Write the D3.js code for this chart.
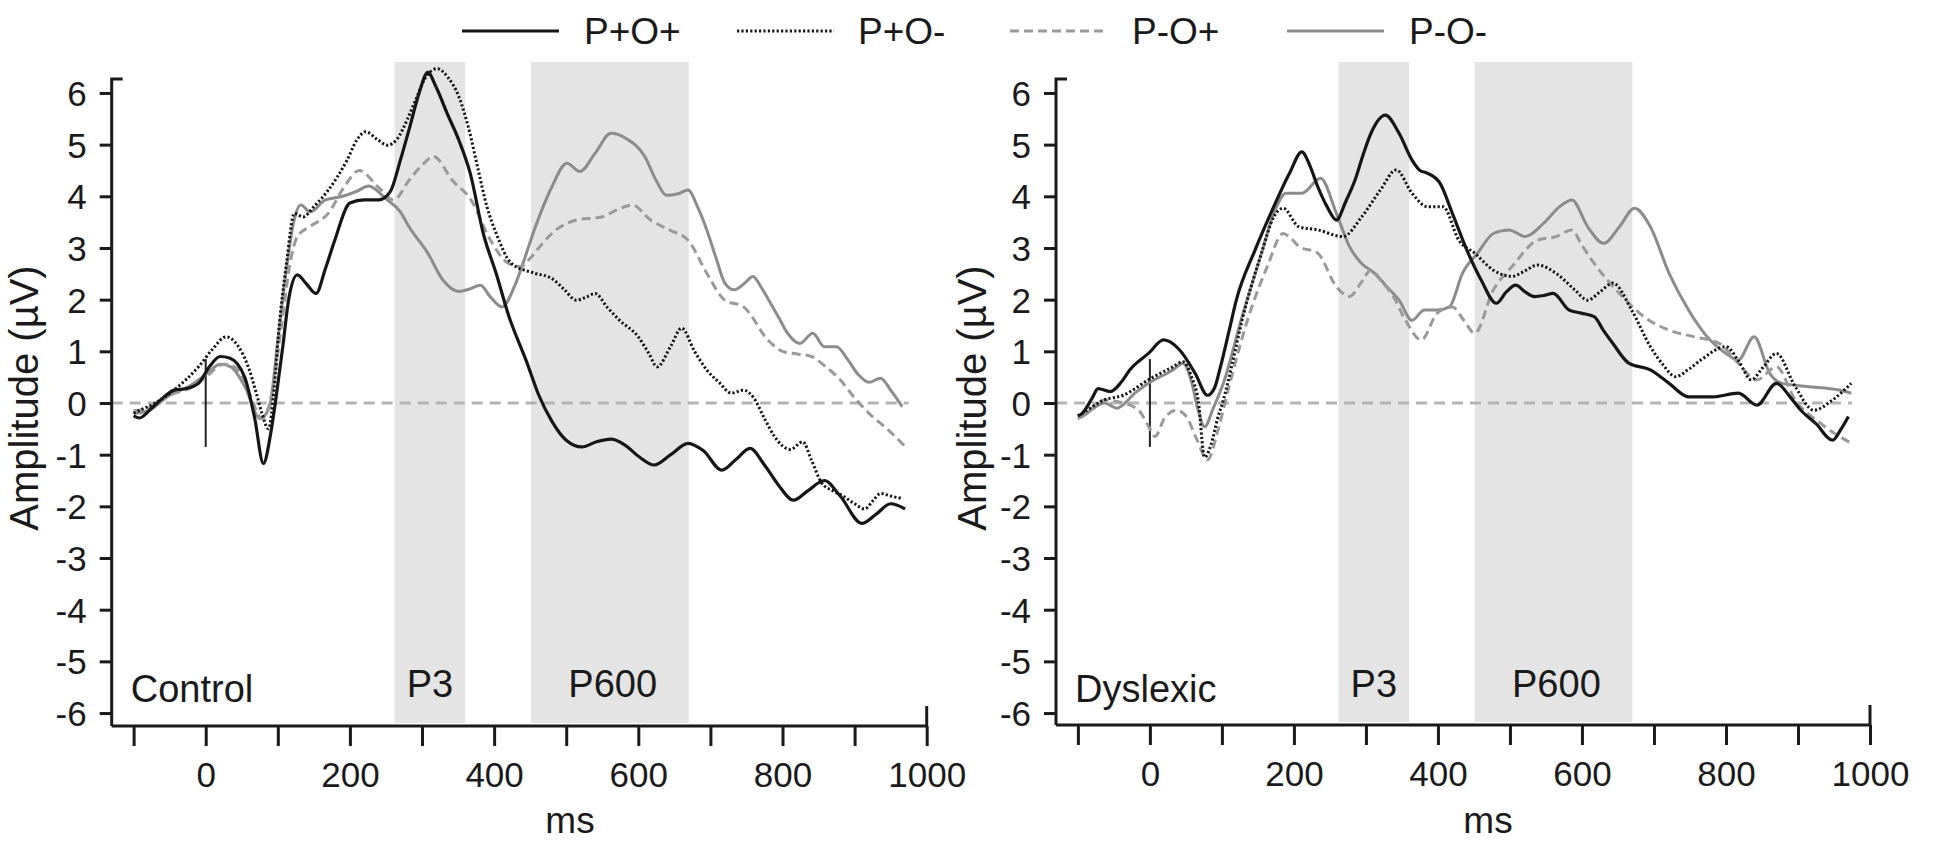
<!DOCTYPE html>
<html>
<head>
<meta charset="utf-8">
<script src="https://cdn.jsdelivr.net/npm/d3@7"></script>
<style>
  body { margin: 0; background: #fff; }
  text { font-family: "Liberation Sans", Arial, sans-serif; fill: #1a1a1a; }
</style>
</head>
<body>
<div id="chart"></div>
<script>
const width = 1944;
const height = 851;

// series names, in legend order
const seriesNames = ["P+O+", "P+O-", "P-O+", "P-O-"];
const panelNames = ["Control", "Dyslexic"];

// component windows (ms)
const windows = [
  { name: "P3", from: 262, to: 360 },
  { name: "P600", from: 451, to: 670 }
];

const xTicks = d3.range(-100, 1001, 100);
const xLabels = [0, 200, 400, 600, 800, 1000];
const yTicks = d3.range(-6, 7, 1);

// [ms, µV]
const controlPpOp = [[-100,-0.25],[-92,-0.29],[-75,-0.1],[-55,0.15],[-44,0.25],[-27,0.28],[-10,0.38],[5,0.7],[20,0.9],[33,0.87],[54,0.5],[68,-0.3],[80,-1.17],[90,-0.6],[97,0.05],[107,1.1],[115,2.0],[127,2.48],[140,2.3],[153,2.12],[166,2.6],[179,3.15],[200,3.87],[220,3.93],[240,3.93],[256,4.09],[270,4.7],[283,5.34],[296,6.0],[308,6.4],[320,6.1],[335,5.6],[351,5.09],[367,4.44],[385,3.28],[403,2.5],[420,1.7],[445,0.8],[462,0.15],[480,-0.35],[500,-0.72],[522,-0.85],[542,-0.75],[562,-0.7],[582,-0.82],[602,-1.05],[622,-1.2],[645,-1.0],[669,-0.78],[690,-0.92],[716,-1.3],[735,-1.1],[755,-0.88],[775,-1.2],[795,-1.6],[815,-1.88],[835,-1.7],[858,-1.5],[880,-1.8],[910,-2.33],[930,-2.15],[950,-1.95],[970,-2.05]];
const controlPpOm = [[-100,-0.2],[-96,-0.17],[-70,0.0],[-44,0.25],[-10,0.7],[10,1.05],[28,1.28],[45,1.1],[59,0.7],[70,0.2],[78,-0.2],[87,-0.5],[95,0.3],[101,1.35],[112,2.7],[123,3.67],[135,3.6],[150,3.8],[170,4.12],[196,4.7],[210,5.1],[222,5.25],[238,5.1],[252,4.99],[265,5.1],[280,5.5],[291,5.86],[305,6.3],[321,6.47],[336,6.3],[351,5.93],[365,5.3],[377,4.57],[390,3.8],[403,3.28],[424,2.7],[454,2.52],[480,2.41],[497,2.2],[514,1.99],[528,2.05],[540,2.12],[557,1.85],[574,1.6],[600,1.28],[615,0.95],[626,0.7],[645,1.1],[660,1.45],[678,1.0],[695,0.64],[712,0.4],[729,0.19],[746,0.25],[760,0.1],[775,-0.3],[789,-0.65],[811,-0.9],[828,-0.75],[840,-1.1],[854,-1.54],[870,-1.7],[884,-1.8],[900,-1.95],[914,-2.05],[925,-1.9],[936,-1.75],[950,-1.8],[966,-1.85]];
const controlPmOp = [[-100,-0.15],[-80,-0.1],[-50,0.15],[-20,0.3],[0,0.5],[25,0.75],[40,0.7],[60,0.2],[78,-0.3],[92,0.2],[105,1.5],[117,2.7],[127,3.22],[144,3.41],[170,3.67],[192,4.18],[213,4.5],[239,4.18],[261,3.93],[282,4.31],[300,4.6],[316,4.77],[342,4.31],[368,3.93],[395,3.15],[420,2.7],[437,2.64],[450,2.8],[463,3.02],[480,3.28],[514,3.54],[549,3.6],[574,3.76],[592,3.83],[617,3.54],[643,3.35],[669,3.15],[695,2.51],[720,1.99],[746,1.86],[781,1.2],[800,1.0],[820,0.95],[840,0.9],[860,0.7],[880,0.45],[900,0.1],[920,-0.2],[945,-0.5],[970,-0.84]];
const controlPmOm = [[-100,-0.2],[-80,-0.15],[-50,0.15],[-20,0.35],[0,0.55],[20,0.75],[35,0.7],[55,0.3],[75,-0.3],[88,-0.1],[100,1.2],[112,2.6],[122,3.5],[132,3.83],[145,3.7],[166,3.93],[190,4.0],[210,4.1],[226,4.2],[250,3.95],[270,3.7],[282,3.41],[308,2.9],[329,2.38],[351,2.16],[365,2.2],[381,2.28],[395,2.05],[411,1.86],[428,2.25],[440,2.7],[454,3.28],[468,3.8],[480,4.18],[501,4.64],[519,4.48],[540,4.83],[562,5.22],[583,5.12],[609,4.77],[625,4.3],[639,4.02],[655,4.05],[669,4.12],[682,3.8],[695,3.35],[708,2.8],[720,2.32],[733,2.19],[746,2.3],[759,2.45],[770,2.25],[781,1.99],[795,1.65],[807,1.35],[824,1.15],[842,1.35],[858,1.09],[875,1.09],[890,0.85],[905,0.55],[920,0.4],[936,0.48],[950,0.25],[966,-0.07]];

const dyslexicPpOp = [[-100,-0.25],[-94,-0.2],[-80,0.1],[-72,0.28],[-55,0.22],[-40,0.4],[-28,0.64],[-2,0.96],[19,1.22],[41,1.03],[63,0.57],[80,0.15],[90,0.3],[98,0.7],[110,1.4],[120,1.99],[146,2.96],[172,3.8],[194,4.45],[211,4.86],[222,4.6],[233,4.19],[246,3.8],[259,3.54],[272,3.9],[285,4.32],[296,4.8],[307,5.22],[327,5.57],[346,5.22],[364,4.7],[375,4.5],[385,4.45],[403,4.25],[420,3.67],[442,2.9],[460,2.38],[481,1.93],[495,2.15],[508,2.28],[521,2.15],[534,2.06],[547,2.08],[560,2.12],[582,1.8],[599,1.74],[617,1.67],[630,1.4],[643,1.15],[665,0.77],[695,0.64],[721,0.38],[748,0.12],[782,0.12],[817,0.19],[843,-0.04],[870,0.38],[890,0.1],[904,-0.14],[925,-0.4],[948,-0.72],[960,-0.5],[970,-0.26]];
const dyslexicPpOm = [[-100,-0.25],[-94,-0.2],[-63,0.06],[-37,0.15],[-2,0.45],[32,0.7],[46,0.8],[58,0.5],[67,0.06],[76,-1.05],[85,-0.8],[94,-0.3],[102,0.06],[115,0.8],[128,1.6],[155,2.9],[172,3.6],[185,3.77],[207,3.41],[233,3.35],[268,3.22],[294,3.6],[320,4.12],[342,4.51],[364,4.06],[385,3.8],[407,3.8],[429,3.15],[451,2.9],[477,2.57],[503,2.45],[520,2.55],[538,2.67],[564,2.51],[590,2.19],[608,1.99],[625,2.15],[643,2.32],[669,1.8],[695,1.09],[712,0.75],[730,0.51],[748,0.65],[765,0.83],[800,1.09],[818,0.8],[835,0.45],[852,0.7],[870,0.96],[896,0.32],[922,-0.14],[948,0.06],[974,0.38]];
const dyslexicPmOp = [[-100,-0.3],[-94,-0.26],[-63,0.06],[-37,0.0],[-15,-0.15],[0,-0.5],[7,-0.65],[20,-0.3],[37,-0.14],[50,-0.25],[65,-0.7],[80,-1.1],[95,-0.5],[111,0.38],[137,1.67],[163,2.64],[185,3.28],[195,3.2],[207,3.03],[233,2.9],[259,2.25],[277,2.06],[292,2.3],[307,2.57],[322,2.35],[338,2.06],[355,1.6],[377,1.22],[399,1.74],[420,1.86],[436,1.6],[451,1.35],[477,2.19],[503,2.64],[538,3.15],[564,3.22],[586,3.35],[600,3.05],[617,2.7],[652,2.12],[686,1.67],[721,1.41],[756,1.28],[791,1.15],[817,0.77],[843,0.45],[870,0.7],[896,0.06],[931,-0.39],[974,-0.78]];
const dyslexicPmOm = [[-100,-0.3],[-94,-0.26],[-63,0.0],[-46,-0.1],[-20,0.2],[-2,0.38],[32,0.64],[46,0.77],[58,0.4],[67,-0.14],[76,-0.46],[88,-0.1],[102,0.38],[128,1.67],[155,2.9],[172,3.67],[189,4.06],[211,4.06],[237,4.35],[259,3.67],[277,3.03],[294,2.7],[312,2.51],[329,2.25],[346,1.99],[364,1.6],[381,1.8],[399,1.8],[416,1.86],[434,2.51],[455,2.9],[477,3.28],[499,3.35],[521,3.22],[547,3.48],[569,3.8],[586,3.93],[608,3.41],[630,3.09],[652,3.41],[673,3.77],[695,3.41],[721,2.51],[748,1.8],[774,1.28],[800,0.96],[817,0.83],[839,1.28],[861,0.57],[878,0.38],[913,0.32],[957,0.25],[974,0.19]];

const panelData = [
  [controlPpOp, controlPpOm, controlPmOp, controlPmOm],
  [dyslexicPpOp, dyslexicPpOm, dyslexicPmOp, dyslexicPmOm]
];

const styles = [
  { color: "#161616", width: 3.2, dash: null },
  { color: "#161616", width: 3, dash: "2.2,2.2" },
  { color: "#9a9a9a", width: 3, dash: "9,5" },
  { color: "#8c8c8c", width: 3, dash: null }
];

const svg = d3.select("#chart")
  .append("svg")
  .attr("width", width)
  .attr("height", height);

svg.append("rect").attr("width", width).attr("height", height).attr("fill", "#fff");

// legend
const legendX = [462, 737, 1010, 1287];
seriesNames.forEach((name, i) => {
  const g = svg.append("g").attr("transform", `translate(${legendX[i]},31)`);
  g.append("line")
    .attr("x1", 0).attr("x2", 97)
    .attr("stroke", styles[i].color)
    .attr("stroke-width", styles[i].width)
    .attr("stroke-dasharray", styles[i].dash);
  g.append("text")
    .attr("x", 122 + (i == 1 ? -1 : 0))
    .attr("y", 13)
    .style("font-size", "37px")
    .text(name);
});

const panels = [
  { left: 111.7, right: 926.7, axisY: 726, titleX: 38, msX: 570 },
  { left: 1056, right: 1870, axisY: 725, titleX: 986, msX: 1488 }
];

panels.forEach((p, pi) => {
  const x = d3.scaleLinear().domain([-130.4, 1000]).range([p.left, p.right]);
  const y = d3.scaleLinear().domain([-6.27, 6.27]).range([727, 79]);
  const g = svg.append("g");

  // shaded windows
  windows.forEach(w => {
    g.append("rect")
      .attr("x", x(w.from)).attr("width", x(w.to) - x(w.from))
      .attr("y", 62).attr("height", p.axisY - 3 - 62)
      .attr("fill", "#e4e4e4");
    g.append("text")
      .attr("x", x((w.from + w.to) / 2 + (w.name == "P600" ? 4 : 0)))
      .attr("y", 697)
      .attr("text-anchor", "middle")
      .style("font-size", "38px")
      .text(w.name);
  });

  g.append("text")
    .attr("x", x(-104)).attr("y", 702)
    .style("font-size", "38px")
    .text(panelNames[pi]);

  // zero line
  g.append("line")
    .attr("x1", p.left).attr("x2", x(975))
    .attr("y1", y(0)).attr("y2", y(0))
    .attr("stroke", "#b4b4b4").attr("stroke-width", 3)
    .attr("stroke-dasharray", "11,7");

  // stimulus onset marker
  g.append("line")
    .attr("x1", x(0)).attr("x2", x(0))
    .attr("y1", y(0.85)).attr("y2", y(-0.85))
    .attr("stroke", "#222").attr("stroke-width", 2);

  const line = d3.line()
    .x(d => x(d[0]))
    .y(d => y(d[1]))
    .curve(d3.curveMonotoneX);

  [3, 2, 1, 0].forEach(i => {
    g.append("path")
      .datum(panelData[pi][i])
      .attr("d", line)
      .attr("fill", "none")
      .attr("stroke", styles[i].color)
      .attr("stroke-width", styles[i].width)
      .attr("stroke-dasharray", styles[i].dash)
      .attr("stroke-linejoin", "round");
  });

  // y axis
  const yAxis = g.append("g")
    .attr("transform", `translate(${p.left},0)`)
    .call(d3.axisLeft(y).tickValues(yTicks).tickSize(12).tickPadding(13).tickFormat(d => d));
  yAxis.select(".domain").remove();
  yAxis.selectAll("line").attr("stroke", "#1a1a1a").attr("stroke-width", 3);
  yAxis.selectAll("text").style("font-size", "35px").attr("dy", "0.36em");
  g.append("path")
    .attr("d", `M${p.left + 11},79H${p.left}V${p.axisY}`)
    .attr("fill", "none").attr("stroke", "#1a1a1a").attr("stroke-width", 3);

  // x axis
  const xAxis = g.append("g")
    .attr("transform", `translate(0,${p.axisY})`)
    .call(d3.axisBottom(x).tickValues(xTicks).tickSize(20).tickPadding(16)
      .tickFormat(d => xLabels.includes(d) ? d : ""));
  xAxis.select(".domain").remove();
  xAxis.selectAll("line").attr("stroke", "#1a1a1a").attr("stroke-width", 3);
  xAxis.selectAll("text").style("font-size", "35px");
  g.append("line")
    .attr("x1", p.left).attr("x2", x(1000))
    .attr("y1", p.axisY).attr("y2", p.axisY)
    .attr("stroke", "#1a1a1a").attr("stroke-width", 3);
  g.append("line")
    .attr("x1", x(1000)).attr("x2", x(1000))
    .attr("y1", p.axisY - 20).attr("y2", p.axisY)
    .attr("stroke", "#1a1a1a").attr("stroke-width", 3);

  // axis titles
  g.append("text")
    .attr("x", p.msX).attr("y", 833)
    .attr("text-anchor", "middle")
    .style("font-size", "37px")
    .text("ms");
  g.append("text")
    .attr("transform", `translate(${p.titleX},398) rotate(-90)`)
    .attr("text-anchor", "middle")
    .style("font-size", "40px")
    .text("Amplitude (µV)");
});
</script>
</body>
</html>
